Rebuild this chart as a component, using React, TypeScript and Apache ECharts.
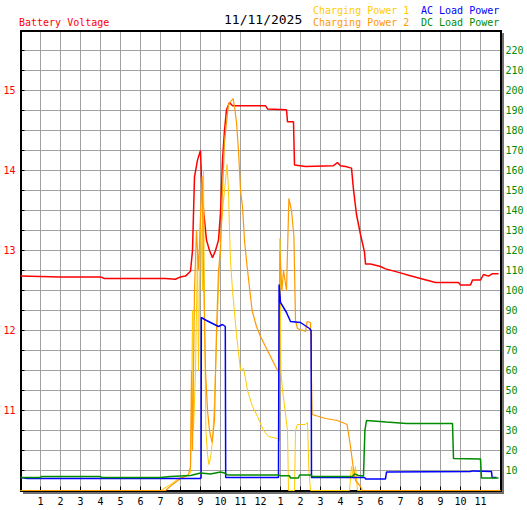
import React, { useEffect, useRef } from "react";
import * as echarts from "echarts";

// [hour, volts]
const batteryVoltage: [number, number][] = [
  [0, 12.68], [2, 12.67], [4, 12.67], [4.2, 12.65], [7.25, 12.65], [7.75, 12.64], [8.0, 12.67], [8.25, 12.68],
  [8.5, 12.74], [8.6, 13.0], [8.7, 13.92], [8.85, 14.13], [9.0, 14.25], [9.05, 13.88], [9.15, 13.5],
  [9.3, 13.13], [9.45, 13.0], [9.6, 12.91], [9.75, 13.0], [9.9, 13.13], [10.0, 13.47], [10.1, 14.13],
  [10.2, 14.5], [10.3, 14.76], [10.45, 14.85], [10.6, 14.81], [12.25, 14.81], [12.35, 14.77], [13.3, 14.76],
  [13.35, 14.61], [13.65, 14.61], [13.7, 14.07], [14.25, 14.05], [15.65, 14.06], [15.85, 14.1], [16.0, 14.06],
  [16.25, 14.05], [16.55, 14.03], [16.65, 13.76], [16.8, 13.45], [17.0, 13.2], [17.2, 12.98], [17.25, 12.83],
  [17.5, 12.83], [18.0, 12.8], [18.25, 12.77], [19.0, 12.72], [19.4, 12.69], [20.0, 12.65], [20.75, 12.6],
  [21.9, 12.6], [22.0, 12.57], [22.5, 12.57], [22.6, 12.63], [23.0, 12.63], [23.15, 12.7], [23.4, 12.68],
  [23.6, 12.71], [23.9, 12.71],
];

// [hour, power]
const chargingPower1: [number, number][] = [
  [0, 0], [7.0, 0], [7.5, 3], [7.9, 6], [8.3, 7], [8.5, 9], [8.55, 40], [8.6, 90], [8.65, 30], [8.75, 60],
  [8.85, 120], [8.9, 60], [9.0, 140], [9.1, 100], [9.15, 160], [9.2, 90], [9.27, 30], [9.35, 18], [9.42, 13],
  [9.5, 16], [9.6, 25], [9.7, 45], [9.8, 75], [9.9, 100], [10.0, 125], [10.1, 140], [10.2, 150], [10.33, 163],
  [10.4, 150], [10.45, 130], [10.5, 115], [10.6, 100], [10.8, 78], [11.0, 60], [11.15, 61], [11.25, 56],
  [11.35, 50], [11.6, 42], [11.85, 37], [12.15, 30], [12.4, 27], [12.85, 26], [12.95, 25], [12.97, 126],
  [13.02, 60], [13.08, 52], [13.35, 30], [13.4, 0], [13.7, 0], [13.75, 30], [13.85, 33], [14.25, 33],
  [14.35, 34], [14.42, 10], [14.5, 0], [16.45, 0], [16.55, 12], [16.65, 6], [16.75, 12], [16.85, 0], [24, 0],
];

const chargingPower2: [number, number][] = [
  [0, 0], [7.25, 0], [7.6, 3], [8.0, 6], [8.4, 8], [8.5, 12], [8.55, 60], [8.6, 20], [8.7, 100], [8.8, 130],
  [8.9, 110], [9.08, 157], [9.15, 110], [9.25, 60], [9.35, 40], [9.45, 30], [9.58, 24], [9.7, 35], [9.8, 80],
  [9.9, 110], [10.0, 120], [10.1, 150], [10.2, 174], [10.3, 184], [10.4, 193], [10.55, 195], [10.63, 196],
  [10.7, 192], [10.8, 184], [10.9, 170], [11.0, 150], [11.1, 142], [11.2, 125], [11.33, 112], [11.58, 90],
  [11.8, 82], [12.0, 77], [12.25, 72], [12.5, 67], [12.75, 62], [12.92, 59], [12.97, 120], [13.07, 100],
  [13.15, 110], [13.3, 100], [13.42, 146], [13.55, 140], [13.67, 127], [13.75, 85], [13.85, 81], [14.25, 79.5],
  [14.33, 84.5], [14.5, 84], [14.58, 38], [15.25, 36], [15.85, 35], [16.33, 33], [16.5, 22], [16.63, 12],
  [16.75, 5], [17.0, 2], [17.1, 0], [24, 0],
];

const acLoadPower: [number, number][] = [
  [0, 6.5], [0.35, 6], [9.0, 6], [9.03, 6.5], [9.04, 86.5], [9.3, 85], [9.5, 84], [9.9, 82], [10.1, 83],
  [10.24, 82], [10.26, 6.5], [12.9, 6.5], [12.93, 103], [13.0, 94], [13.3, 89], [13.5, 84.5], [14.0, 84],
  [14.45, 81], [14.53, 80], [14.55, 6.5], [17.2, 6.5], [17.25, 5.8], [18.25, 5.8], [18.3, 9.2], [22.5, 9.5],
  [22.6, 9.8], [23.55, 9.5], [23.58, 6.5], [23.8, 6.5],
];

const dcLoadPower: [number, number][] = [
  [0, 6.5], [1.0, 6.5], [1.05, 7], [4.0, 7], [4.05, 6.5], [7.0, 6.5], [7.5, 7], [8.5, 7.5], [9.0, 8.7],
  [9.5, 8.2], [10.0, 9.2], [10.2, 8.7], [10.35, 7.8], [12.9, 7.8], [13.0, 7.4], [13.45, 7.4], [13.5, 6.2],
  [13.9, 6.2], [13.95, 7.8], [14.5, 7.8], [14.6, 7], [16.6, 7], [16.7, 8.3], [16.9, 7.5], [17.15, 7.3],
  [17.22, 30], [17.3, 35], [18.3, 34.2], [19.3, 33.5], [21.6, 33.5], [21.65, 16], [23.0, 15.8], [23.05, 6.2],
  [23.9, 6.2],
];

const hourLabels = ["1", "2", "3", "4", "5", "6", "7", "8", "9", "10", "11", "12", "1", "2", "3", "4", "5", "6", "7", "8", "9", "10", "11"];
const voltageLabels = [11, 12, 13, 14, 15];
const chartDate = "11/11/2025";

const FONT = "'DejaVu Sans Mono', monospace";
const RED = "#ff0000";
const GOLD = "#ffcc00";
const ORANGE = "#ff9900";
const BLUE = "#0000ff";
const GREEN = "#008c00";

export default function App() {
  const ref = useRef<HTMLDivElement>(null);
  useEffect(() => {
    if (!ref.current) return;
    const chart = echarts.init(ref.current, null, { renderer: "svg" });
    const line = (name: string, data: [number, number][], color: string, width: number, yAxisIndex: number) => ({
      name,
      type: "line",
      data,
      yAxisIndex,
      showSymbol: false,
      symbol: "none",
      clip: false,
      z: 5,
      lineStyle: { color, width },
      itemStyle: { color },
      silent: true,
    });
    chart.setOption({
      animation: false,
      backgroundColor: "#ffffff",
      grid: { left: 20.5, top: 30.5, width: 480, height: 460, containLabel: false },
      xAxis: {
        type: "value",
        min: 0,
        max: 24,
        interval: 1,
        axisLine: { show: false },
        axisTick: { show: true, inside: true, length: 4, lineStyle: { color: "#000", width: 1 } },
        splitLine: { show: true, lineStyle: { color: "#a0a0a0", width: 1 } },
        axisLabel: {
          color: "#000",
          fontFamily: FONT,
          fontSize: 10,
          margin: 6,
          formatter: (v: number) => (v >= 1 && v <= 23 ? hourLabels[Math.round(v) - 1] : ""),
        },
      },
      yAxis: [
        {
          type: "value",
          position: "left",
          min: 10,
          max: 15.75,
          interval: 0.25,
          axisLine: { show: false },
          axisTick: { show: true, inside: true, length: 4, lineStyle: { color: "#000", width: 1 } },
          splitLine: { show: true, lineStyle: { color: "#a0a0a0", width: 1 } },
          axisLabel: {
            color: RED,
            fontFamily: FONT,
            fontSize: 10,
            margin: 5,
            formatter: (v: number) => (voltageLabels.indexOf(v) >= 0 ? String(v) : ""),
          },
        },
        {
          type: "value",
          position: "right",
          min: 0,
          max: 230,
          interval: 10,
          axisLine: { show: false },
          axisTick: { show: false },
          splitLine: { show: false },
          axisLabel: {
            color: GREEN,
            fontFamily: FONT,
            fontSize: 10,
            margin: 5,
            formatter: (v: number) => (v > 0 && v < 230 ? String(v) : ""),
          },
        },
      ],
      series: [
        line("Battery Voltage", batteryVoltage, RED, 1.5, 0),
        line("Charging Power 1", chargingPower1, GOLD, 1, 1),
        line("Charging Power 2", chargingPower2, ORANGE, 1.2, 1),
        line("AC Load Power", acLoadPower, BLUE, 1.5, 1),
        line("DC Load Power", dcLoadPower, GREEN, 1.5, 1),
      ],
      graphic: [
        { type: "rect", z: 1, shape: { x: 502, y: 33, width: 2, height: 461 }, style: { fill: "#707070" } },
        { type: "rect", z: 1, shape: { x: 23, y: 492, width: 481, height: 2 }, style: { fill: "#707070" } },
        { type: "rect", z: 1, shape: { x: 21, y: 31, width: 480, height: 460 }, style: { fill: "none", stroke: "#000", lineWidth: 2 } },
        { type: "text", left: 19, top: 17, style: { text: "Battery Voltage", fill: RED, font: `10px ${FONT}` } },
        { type: "text", left: 224, top: 13, style: { text: chartDate, fill: "#000", font: `13px ${FONT}` } },
        { type: "text", left: 313, top: 5, style: { text: "Charging Power 1", fill: GOLD, font: `10px ${FONT}` } },
        { type: "text", left: 313, top: 17, style: { text: "Charging Power 2", fill: ORANGE, font: `10px ${FONT}` } },
        { type: "text", left: 421, top: 5, style: { text: "AC Load Power", fill: BLUE, font: `10px ${FONT}` } },
        { type: "text", left: 421, top: 17, style: { text: "DC Load Power", fill: GREEN, font: `10px ${FONT}` } },
      ],
    });
    return () => chart.dispose();
  }, []);
  return (
    <div
      ref={ref}
      style={{ position: "absolute", left: 0, top: 0, width: 527, height: 510, background: "#fff" }}
    />
  );
}
